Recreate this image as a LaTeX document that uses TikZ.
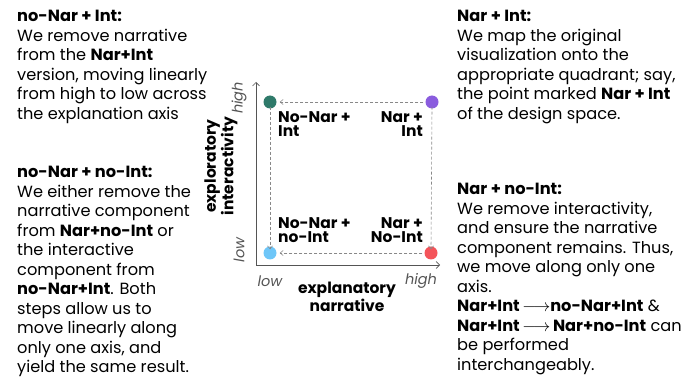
\documentclass[tikz,border=0pt]{standalone}
\usepackage{fontspec}
\setmainfont{Poppins}
\newfontfamily\plainpop{Poppins}
\usetikzlibrary{arrows.meta}
\definecolor{dgreen}{HTML}{2F7A6A}
\definecolor{dpurple}{HTML}{8A5CDE}
\definecolor{dblue}{HTML}{6EC6F8}
\definecolor{dred}{HTML}{F4545A}
\definecolor{axisgray}{HTML}{555555}
\definecolor{dashgray}{HTML}{888888}
\tikzset{
  desc/.style={anchor=north west, inner sep=0pt, align=left, font=\fontsize{16.2}{19.5}\selectfont},
  dot/.style={circle, inner sep=0pt, minimum size=13pt},
  qlabel/.style={inner sep=0pt, font=\plainpop\fontsize{15.5}{14.5}\selectfont\bfseries},
  tick/.style={inner sep=0pt, text=axisgray, font=\plainpop\fontsize{14.5}{15}\selectfont\itshape},
  axlabel/.style={inner sep=0pt, align=center, font=\plainpop\fontsize{15.5}{15}\selectfont\bfseries},
  move/.style={draw=dashgray, dashed, dash pattern=on 3pt off 2pt, line width=0.6pt, -{Straight Barb[length=3pt,width=5pt]}},
  axis/.style={draw=axisgray, line width=0.7pt, -{Straight Barb[length=3.5pt,width=7pt]}}
}
\begin{document}
\begin{tikzpicture}[x=1pt,y=-1pt]
\useasboundingbox (0,0) rectangle (689,377);
% axes
\coordinate (o) at (256,265);
\coordinate (ytop) at (256,82);
\coordinate (xend) at (440,265);
\draw[axis] (o) -- (ytop);
\draw[axis] (o) -- (xend);
% dots
\node[dot, fill=dgreen] (nni) at (270,102) {};
\node[dot, fill=dpurple] (ni) at (432,102) {};
\node[dot, fill=dblue] (nnn) at (270,253) {};
\node[dot, fill=dred] (nn) at (431,253) {};
% moves
\draw[move] ([xshift=-2pt]ni.west) -- ([xshift=3pt]nni.east);
\draw[move] ([xshift=-2pt]nn.west) -- ([xshift=3pt]nnn.east);
\draw[move] ([yshift=2pt]nni.south) -- ([yshift=-3pt]nnn.north);
\draw[move] ([yshift=2pt]ni.south) -- ([yshift=-3pt]nn.north);
% quadrant labels
\node[qlabel, anchor=north west, align=left] (l1) at (278,111) {No-Nar +\\Int};
\node[qlabel, anchor=north east, align=right] (l2) at (423,111) {Nar +\\Int};
\node[qlabel, anchor=north west, align=left] (l3) at (278,217) {No-Nar +\\no-Int};
\node[qlabel, anchor=north east, align=right] (l4) at (423,217) {Nar +\\No-Int};
% ticks
\node[tick, rotate=90] (yhigh) at (239,98) {high};
\node[tick, rotate=90] (ylow) at (239,250) {low};
\node[tick] (xlow) at (270,281) {low};
\node[tick] (xhigh) at (421,281) {high};
\node[axlabel] (xlab) at (347,297) {explanatory\\narrative};
\node[axlabel, rotate=90] (ylab) at (221,166) {exploratory\\interactivity};
% descriptions
\node[desc] (d1) at (17,10) {\textbf{no-Nar + Int:}\\We remove narrative\\from the \textbf{Nar+Int}\\version, moving linearly\\from high to low across\\the explanation axis};
\node[desc] (d2) at (17,166) {\textbf{no-Nar + no-Int:}\\We either remove the\\narrative component\\from \textbf{Nar+no-Int} or\\the interactive\\component from\\\textbf{no-Nar+Int}. Both\\steps allow us to\\move linearly along\\only one axis, and\\yield the same result.};
\node[desc] (d3) at (457,10) {\textbf{Nar + Int:}\\We map the original\\visualization onto the\\appropriate quadrant; say,\\the point marked \textbf{Nar + Int}\\of the design space.};
\node[desc] (d4) at (457,183) {\textbf{Nar + no-Int:}\\We remove interactivity,\\and ensure the narrative\\component remains. Thus,\\we move along only one\\axis.\\\textbf{Nar+Int}\,$\longrightarrow$\textbf{no-Nar+Int} \&\\\textbf{Nar+Int}\,$\longrightarrow$\,\textbf{Nar+no-Int} can\\be performed\\interchangeably.};
\end{tikzpicture}
\end{document}
